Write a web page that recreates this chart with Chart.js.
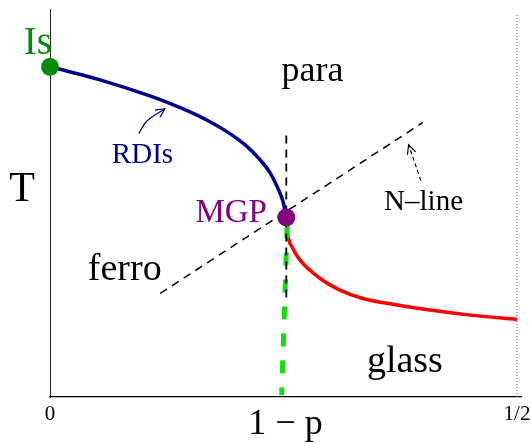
<!DOCTYPE html>
<html>
<head>
<meta charset="utf-8">
<title>Phase diagram</title>
<script src="https://cdn.jsdelivr.net/npm/chart.js"></script>
<style>
  html, body { margin: 0; padding: 0; background: #fff; }
  #chart { display: block; }
</style>
</head>
<body>
<canvas id="chart" width="531" height="444"></canvas>
<script>
// x = 1 - p (0 .. 1/2), y = T (arbitrary units, 0 .. 1)
const xTickValues = [0, 0.5];
const xTickLabels = ['0', '1/2'];

// RDIs line from the Is point down to the MGP
const rdiX = [0, 0.0535, 0.107, 0.1445, 0.1713, 0.1927, 0.2099, 0.2238, 0.2355, 0.2441, 0.2495, 0.2527];
const rdiT = [0.851, 0.8175, 0.776, 0.7404, 0.7095, 0.6787, 0.6478, 0.6144, 0.5784, 0.5373, 0.5039, 0.4627];

// ferro / glass boundary (red)
const glassX = [0.253, 0.254, 0.260, 0.268, 0.289, 0.311, 0.335, 0.375, 0.407, 0.450, 0.5];
const glassT = [0.463, 0.429, 0.383, 0.352, 0.306, 0.275, 0.254, 0.236, 0.224, 0.211, 0.200];

// green dashed boundary below the MGP
const greenX = [0.254, 0.248];
const greenT = [0.442, 0.005];

// black dashed vertical through the MGP
const vertX = [0.253, 0.253];
const vertT = [0.674, 0.25];

// Nishimori line
const nlineX = [0.118, 0.399];
const nlineT = [0.267, 0.707];

// dotted guide at x = 1/2
const halfX = [0.5, 0.5];
const halfT = [0, 0.987];

// special points: Is and MGP
const pointX = [0, 0.253];
const pointT = [0.851, 0.463];

// small annotation arrows
const rdiArrowX = [0.095, 0.104, 0.123];
const rdiArrowT = [0.679, 0.712, 0.743];
const nArrowX = [0.397, 0.384];
const nArrowT = [0.558, 0.650];

const pts = (xs, ys) => xs.map((x, i) => ({ x: x, y: ys[i] }));

const serif = 'Liberation Serif';

// text labels, placed in data coordinates
const textLabels = [
    { text: 'Is', x: -0.013, y: 0.884, size: 39, color: '#078a07' },
    { text: 'para', x: 0.281, y: 0.815, size: 36, color: '#000' },
    { text: 'RDIs', x: 0.099, y: 0.602, size: 29, color: '#000090' },
    { text: 'T', x: -0.030, y: 0.504, size: 42, color: '#000' },
    { text: 'MGP', x: 0.194, y: 0.450, size: 33, color: '#800080' },
    { text: 'N\u2013line', x: 0.400, y: 0.481, size: 29, color: '#000' },
    { text: 'ferro', x: 0.080, y: 0.301, size: 38, color: '#000' },
    { text: 'glass', x: 0.380, y: 0.064, size: 38, color: '#000' }
];

const labelPlugin = {
    id: 'labels',
    afterDatasetsDraw(chart) {
        const ctx = chart.ctx;
        const xs = chart.scales.x, ys = chart.scales.y;

        // arrow heads on datasets flagged with arrowHead
        chart.data.datasets.forEach((ds, i) => {
            if (!ds.arrowHead) return;
            const els = chart.getDatasetMeta(i).data;
            const a = els[els.length - 2], b = els[els.length - 1];
            const ang = Math.atan2(b.y - a.y, b.x - a.x);
            const len = 10, spread = 0.45;
            ctx.save();
            ctx.strokeStyle = ds.borderColor;
            ctx.lineWidth = 1.2;
            ctx.beginPath();
            ctx.moveTo(b.x - len * Math.cos(ang - spread), b.y - len * Math.sin(ang - spread));
            ctx.lineTo(b.x, b.y);
            ctx.lineTo(b.x - len * Math.cos(ang + spread), b.y - len * Math.sin(ang + spread));
            ctx.stroke();
            ctx.restore();
        });

        ctx.save();
        ctx.textAlign = 'center';
        ctx.textBaseline = 'alphabetic';
        textLabels.forEach(l => {
            ctx.font = l.size + 'px "' + serif + '"';
            ctx.fillStyle = l.color;
            ctx.fillText(l.text, xs.getPixelForValue(l.x), ys.getPixelForValue(l.y));
        });
        ctx.restore();
    }
};

const datasets = [
    {
        data: pts(pointX, pointT),
        pointRadius: 9,
        pointBackgroundColor: ['#0a8a0a', '#800080'],
        pointBorderWidth: 0,
        showLine: false,
        clip: false
    },
    {
        data: pts(vertX, vertT),
        showLine: true, pointRadius: 0,
        borderColor: '#000', borderWidth: 1.8, borderDash: [8, 6]
    },
    {
        data: pts(greenX, greenT),
        showLine: true, pointRadius: 0,
        borderColor: '#11dd11', borderWidth: 5, borderDash: [13, 14]
    },
    {
        data: pts(rdiX, rdiT),
        showLine: true, pointRadius: 0,
        borderColor: '#000090', borderWidth: 3.5,
        tension: 0.4
    },
    {
        data: pts(glassX, glassT),
        showLine: true, pointRadius: 0,
        borderColor: '#ff0000', borderWidth: 3.5,
        cubicInterpolationMode: 'monotone'
    },
    {
        data: pts(nlineX, nlineT),
        showLine: true, pointRadius: 0,
        borderColor: '#000', borderWidth: 1.5, borderDash: [8, 6]
    },
    {
        data: pts(rdiArrowX, rdiArrowT),
        showLine: true, pointRadius: 0,
        borderColor: '#000090', borderWidth: 1.2, tension: 0.4,
        arrowHead: true
    },
    {
        data: pts(nArrowX, nArrowT),
        showLine: true, pointRadius: 0,
        borderColor: '#000', borderWidth: 1.1, borderDash: [4, 3],
        arrowHead: true
    },
    {
        data: pts(halfX, halfT),
        showLine: true, pointRadius: 0,
        borderColor: '#666', borderWidth: 1, borderDash: [1, 2]
    }
];

new Chart(document.getElementById('chart'), {
    type: 'scatter',
    data: { datasets: datasets },
    options: {
        responsive: false,
        animation: false,
        layout: { padding: { top: 8, right: 10, left: 0, bottom: 0 } },
        plugins: {
            legend: { display: false },
            tooltip: { enabled: false }
        },
        scales: {
            x: {
                type: 'linear',
                min: 0,
                max: 0.5043,
                grid: { display: false, drawTicks: false },
                border: { color: '#000', width: 1.3 },
                afterBuildTicks: s => { s.ticks = xTickValues.map(v => ({ value: v })); },
                afterFit: s => {
                    s.height = 47;
                    // the 1/2 label may hang past the axis end, as in the original
                    s.paddingLeft = 0;
                    s.paddingRight = 0;
                },
                ticks: {
                    font: { family: serif, size: 21 },
                    color: '#000',
                    padding: 5,
                    maxRotation: 0,
                    autoSkip: false,
                    callback: (v, i) => xTickLabels[i]
                },
                title: {
                    display: true,
                    text: '1 \u2212 p',
                    font: { family: serif, size: 36, lineHeight: 1 },
                    color: '#000',
                    padding: { top: 0, bottom: 1 }
                }
            },
            y: {
                type: 'linear',
                min: 0,
                max: 1,
                grid: { display: false, drawTicks: false },
                border: { color: '#222', width: 1 },
                ticks: { display: false },
                afterFit: s => { s.width = 50; }
            }
        }
    },
    plugins: [labelPlugin]
});
</script>
</body>
</html>
